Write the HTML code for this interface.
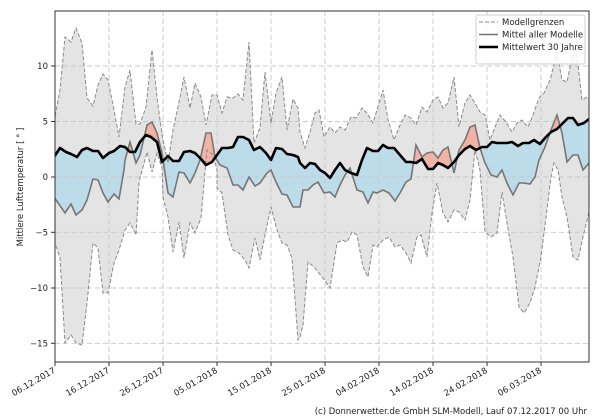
<!DOCTYPE html>
<html><head><meta charset="utf-8"><style>
html,body{margin:0;padding:0;background:#fff;}
svg{display:block;font-family:"DejaVu Sans","Liberation Sans",sans-serif;}
</style></head><body>
<svg width="600" height="420" viewBox="0 0 600 420" xmlns="http://www.w3.org/2000/svg" xmlns:xlink="http://www.w3.org/1999/xlink">
<defs>
<clipPath id="plot"><rect x="55" y="11" width="534" height="351"/></clipPath>
<clipPath id="below"><polygon points="54,157 60,148 66,152 71,154 77,157 82,150 87,148 93,151 98,151 103,158 109,153 114,151 120,146 125,147 130,152 135,152 140,142 146,135 151,137 157,142 162,162 168,156 173,161 179,161 184,152 190,151 195,153 201,159 206,165 212,162 217,155 222,148 228,148 233,147 238,137 243,137 249,140 254,150 260,147 266,153 271,160 276,148 282,149 287,154 293,155 298,157 300,163 305,168 310,163 315,164 320,170 325,173 330,178 335,170 340,163 345,170 351,173 357,175 362,160 367,148 373,151 378,151 383,145 388,148 394,148 400,155 406,162 411,162 416,163 422,159 428,169 433,169 438,163 443,165 448,168 454,162 459,155 465,149 470,146 476,150 482,147 487,147 492,142 497,143 502,143 507,143 512,142 518,146 523,143 529,143 534,140 540,144 545,138 551,132 557,129 562,124 568,118 573,118 578,125 584,123 589,119 600,119 600,420 40,420 40,157"/></clipPath>
<clipPath id="above"><polygon points="54,157 60,148 66,152 71,154 77,157 82,150 87,148 93,151 98,151 103,158 109,153 114,151 120,146 125,147 130,152 135,152 140,142 146,135 151,137 157,142 162,162 168,156 173,161 179,161 184,152 190,151 195,153 201,159 206,165 212,162 217,155 222,148 228,148 233,147 238,137 243,137 249,140 254,150 260,147 266,153 271,160 276,148 282,149 287,154 293,155 298,157 300,163 305,168 310,163 315,164 320,170 325,173 330,178 335,170 340,163 345,170 351,173 357,175 362,160 367,148 373,151 378,151 383,145 388,148 394,148 400,155 406,162 411,162 416,163 422,159 428,169 433,169 438,163 443,165 448,168 454,162 459,155 465,149 470,146 476,150 482,147 487,147 492,142 497,143 502,143 507,143 512,142 518,146 523,143 529,143 534,140 540,144 545,138 551,132 557,129 562,124 568,118 573,118 578,125 584,123 589,119 600,119 600,0 40,0 40,157"/></clipPath>
<polygon id="anom" points="54,197 65,213 71,204 76,215 82,210 87,200 93,179 98,180 103,193 108,202 114,194 119,199 124,170 125,160 130,142 136,163 140,155 147,125 152,122 157,133 162,153 168,193 173,197 179,172 184,173 190,183 195,173 200,160 206,133 211,133 215,157 220,165 227,168 233,185 238,185 243,190 249,177 255,186 260,183 267,173 271,170 276,182 282,194 287,195 293,207 298,207 300,207 303,190 308,190 313,185 318,182 324,193 330,192 335,197 340,185 345,175 350,168 357,190 363,192 368,203 373,192 377,193 383,190 389,193 395,201 400,193 406,182 411,179 416,145 422,157 427,153 433,152 438,158 443,150 448,147 454,173 459,150 465,140 470,127 475,125 480,148 485,163 491,175 497,177 502,170 507,183 513,195 519,183 524,183 530,184 535,177 539,160 545,147 551,130 557,115 562,133 567,162 573,155 578,155 583,170 589,163 589,119 584,123 578,125 573,118 568,118 562,124 557,129 551,132 545,138 540,144 534,140 529,143 523,143 518,146 512,142 507,143 502,143 497,143 492,142 487,147 482,147 476,150 470,146 465,149 459,155 454,162 448,168 443,165 438,163 433,169 428,169 422,159 416,163 411,162 406,162 400,155 394,148 388,148 383,145 378,151 373,151 367,148 362,160 357,175 351,173 345,170 340,163 335,170 330,178 325,173 320,170 315,164 310,163 305,168 300,163 298,157 293,155 287,154 282,149 276,148 271,160 266,153 260,147 254,150 249,140 243,137 238,137 233,147 228,148 222,148 217,155 212,162 206,165 201,159 195,153 190,151 184,152 179,161 173,161 168,156 162,162 157,142 151,137 146,135 140,142 135,152 130,152 125,147 120,146 114,151 109,153 103,158 98,151 93,151 87,148 82,150 77,157 71,154 66,152 60,148 54,157"/>
</defs>
<g clip-path="url(#plot)">
<polygon fill="#e4e4e4" points="54,122 60,90 65,37 71,42 76,28 82,43 87,98 93,106 98,85 103,74 108,80 114,110 119,137 125,87 130,70 136,124 140,124 146,107 152,50 157,97 162,135 168,163 173,130 179,102 184,77 190,108 195,83 201,97 206,125 212,95 217,95 222,113 227,97 233,98 238,94 243,100 249,42 254,143 260,128 265,72 271,123 276,93 282,77 287,130 293,99 298,108 300,132 305,148 310,132 315,113 319,110 324,137 330,127 335,133 340,127 345,130 351,117 356,118 362,108 367,113 373,123 383,90 388,120 394,140 400,125 405,115 411,118 416,125 422,107 427,112 433,100 438,97 443,108 448,103 454,77 459,127 465,103 470,95 475,103 480,112 485,115 490,140 495,127 500,115 506,122 512,132 517,123 522,120 528,127 533,115 539,98 544,93 550,80 557,53 562,80 567,82 572,57 576,47 582,100 587,97 590,97 590,212 589,212 583,237 578,260 573,257 567,217 562,197 558,170 554,163 551,177 546,217 541,257 535,287 530,303 524,313 519,307 513,257 507,223 502,192 497,233 491,237 485,232 480,170 475,150 470,200 465,220 459,212 454,210 448,222 443,213 437,183 432,213 427,257 421,235 417,237 411,263 406,253 400,245 395,247 389,237 383,240 377,247 373,245 368,277 363,267 357,235 352,232 347,242 342,240 337,243 330,288 322,277 315,268 308,262 303,325 300,337 298,340 292,258 287,245 282,243 277,230 271,207 266,230 260,260 255,238 249,268 245,260 239,253 233,250 228,235 222,193 217,188 217,170 213,155 207,150 204,183 201,218 195,233 190,223 184,258 179,222 173,252 168,217 163,197 162,168 157,153 152,172 147,152 139,182 136,235 130,223 125,230 119,250 114,263 108,293 103,293 98,248 93,243 87,303 82,345 76,343 71,335 65,343 60,258 54,240"/>
<g clip-path="url(#below)"><use href="#anom" xlink:href="#anom" fill="#bcdce9"/></g>
<g clip-path="url(#above)"><use href="#anom" xlink:href="#anom" fill="#f0b3a5"/></g>
<g stroke="#c8c8c8" stroke-width="0.9" stroke-dasharray="5,3" fill="none">
<line x1="109" y1="11" x2="109" y2="362"/><line x1="163" y1="11" x2="163" y2="362"/><line x1="217" y1="11" x2="217" y2="362"/><line x1="271" y1="11" x2="271" y2="362"/><line x1="325" y1="11" x2="325" y2="362"/><line x1="379" y1="11" x2="379" y2="362"/><line x1="433" y1="11" x2="433" y2="362"/><line x1="487" y1="11" x2="487" y2="362"/><line x1="541" y1="11" x2="541" y2="362"/>
<line x1="55" y1="66" x2="589" y2="66"/><line x1="55" y1="121.5" x2="589" y2="121.5"/><line x1="55" y1="177" x2="589" y2="177"/><line x1="55" y1="232.3" x2="589" y2="232.3"/><line x1="55" y1="288" x2="589" y2="288"/><line x1="55" y1="343.3" x2="589" y2="343.3"/>
</g>
<g fill="none" stroke="#8a8a8a" stroke-width="1" stroke-dasharray="4,2">
<polyline points="54,122 60,90 65,37 71,42 76,28 82,43 87,98 93,106 98,85 103,74 108,80 114,110 119,137 125,87 130,70 136,124 140,124 146,107 152,50 157,97 162,135 168,163 173,130 179,102 184,77 190,108 195,83 201,97 206,125 212,95 217,95 222,113 227,97 233,98 238,94 243,100 249,42 254,143 260,128 265,72 271,123 276,93 282,77 287,130 293,99 298,108 300,132 305,148 310,132 315,113 319,110 324,137 330,127 335,133 340,127 345,130 351,117 356,118 362,108 367,113 373,123 383,90 388,120 394,140 400,125 405,115 411,118 416,125 422,107 427,112 433,100 438,97 443,108 448,103 454,77 459,127 465,103 470,95 475,103 480,112 485,115 490,140 495,127 500,115 506,122 512,132 517,123 522,120 528,127 533,115 539,98 544,93 550,80 557,53 562,80 567,82 572,57 576,47 582,100 587,97 590,97"/>
<polyline points="54,240 60,258 65,343 71,335 76,343 82,345 87,303 93,243 98,248 103,293 108,293 114,263 119,250 125,230 130,223 136,235 139,182 147,152 152,172 157,153 162,168 163,197 168,217 173,252 179,222 184,258 190,223 195,233 201,218 204,183 207,150 213,155 217,170 217,188 222,193 228,235 233,250 239,253 245,260 249,268 255,238 260,260 266,230 271,207 277,230 282,243 287,245 292,258 298,340 300,337 303,325 308,262 315,268 322,277 330,288 337,243 342,240 347,242 352,232 357,235 363,267 368,277 373,245 377,247 383,240 389,237 395,247 400,245 406,253 411,263 417,237 421,235 427,257 432,213 437,183 443,213 448,222 454,210 459,212 465,220 470,200 475,150 480,170 485,232 491,237 497,233 502,192 507,223 513,257 519,307 524,313 530,303 535,287 541,257 546,217 551,177 554,163 558,170 562,197 567,217 573,257 578,260 583,237 589,212"/>
</g>
<polyline fill="none" stroke="#767676" stroke-width="1.6" points="54,197 65,213 71,204 76,215 82,210 87,200 93,179 98,180 103,193 108,202 114,194 119,199 124,170 125,160 130,142 136,163 140,155 147,125 152,122 157,133 162,153 168,193 173,197 179,172 184,173 190,183 195,173 200,160 206,133 211,133 215,157 220,165 227,168 233,185 238,185 243,190 249,177 255,186 260,183 267,173 271,170 276,182 282,194 287,195 293,207 298,207 300,207 303,190 308,190 313,185 318,182 324,193 330,192 335,197 340,185 345,175 350,168 357,190 363,192 368,203 373,192 377,193 383,190 389,193 395,201 400,193 406,182 411,179 416,145 422,157 427,153 433,152 438,158 443,150 448,147 454,173 459,150 465,140 470,127 475,125 480,148 485,163 491,175 497,177 502,170 507,183 513,195 519,183 524,183 530,184 535,177 539,160 545,147 551,130 557,115 562,133 567,162 573,155 578,155 583,170 589,163"/>
<polyline fill="none" stroke="#000" stroke-width="2.6" stroke-linejoin="round" points="54,157 60,148 66,152 71,154 77,157 82,150 87,148 93,151 98,151 103,158 109,153 114,151 120,146 125,147 130,152 135,152 140,142 146,135 151,137 157,142 162,162 168,156 173,161 179,161 184,152 190,151 195,153 201,159 206,165 212,162 217,155 222,148 228,148 233,147 238,137 243,137 249,140 254,150 260,147 266,153 271,160 276,148 282,149 287,154 293,155 298,157 300,163 305,168 310,163 315,164 320,170 325,173 330,178 335,170 340,163 345,170 351,173 357,175 362,160 367,148 373,151 378,151 383,145 388,148 394,148 400,155 406,162 411,162 416,163 422,159 428,169 433,169 438,163 443,165 448,168 454,162 459,155 465,149 470,146 476,150 482,147 487,147 492,142 497,143 502,143 507,143 512,142 518,146 523,143 529,143 534,140 540,144 545,138 551,132 557,129 562,124 568,118 573,118 578,125 584,123 589,119"/>
</g>
<rect x="55" y="11" width="534" height="351" fill="none" stroke="#333" stroke-width="1"/>
<g stroke="#333" stroke-width="1">
<line x1="51" y1="66" x2="55" y2="66"/><line x1="51" y1="121.5" x2="55" y2="121.5"/><line x1="51" y1="177" x2="55" y2="177"/><line x1="51" y1="232.3" x2="55" y2="232.3"/><line x1="51" y1="288" x2="55" y2="288"/><line x1="51" y1="343.3" x2="55" y2="343.3"/>
<line x1="55" y1="362" x2="55" y2="366"/><line x1="109" y1="362" x2="109" y2="366"/><line x1="163" y1="362" x2="163" y2="366"/><line x1="217" y1="362" x2="217" y2="366"/><line x1="271" y1="362" x2="271" y2="366"/><line x1="325" y1="362" x2="325" y2="366"/><line x1="379" y1="362" x2="379" y2="366"/><line x1="433" y1="362" x2="433" y2="366"/><line x1="487" y1="362" x2="487" y2="366"/><line x1="541" y1="362" x2="541" y2="366"/>
</g>
<g font-size="8.5" fill="#222" text-anchor="end">
<text x="48" y="69">10</text><text x="48" y="124.5">5</text><text x="48" y="180">0</text><text x="48" y="235.3">−5</text><text x="48" y="291">−10</text><text x="48" y="346.3">−15</text>
</g>
<text transform="translate(23,187) rotate(-90)" font-size="8.5" fill="#222" text-anchor="middle">Mittlere Lufttemperatur [ ° ]</text>
<g font-size="8.5" fill="#222" text-anchor="end">
<text transform="translate(56,372) rotate(-30)">06.12.2017</text>
<text transform="translate(110,372) rotate(-30)">16.12.2017</text>
<text transform="translate(164,372) rotate(-30)">26.12.2017</text>
<text transform="translate(218,372) rotate(-30)">05.01.2018</text>
<text transform="translate(272,372) rotate(-30)">15.01.2018</text>
<text transform="translate(326,372) rotate(-30)">25.01.2018</text>
<text transform="translate(380,372) rotate(-30)">04.02.2018</text>
<text transform="translate(434,372) rotate(-30)">14.02.2018</text>
<text transform="translate(488,372) rotate(-30)">24.02.2018</text>
<text transform="translate(542,372) rotate(-30)">06.03.2018</text>
</g>
<rect x="476" y="15" width="109" height="49" rx="2" fill="#fff" fill-opacity="0.85" stroke="#d0d0d0"/>
<line x1="479" y1="22" x2="498" y2="22" stroke="#888" stroke-dasharray="4,2"/>
<line x1="479" y1="34.5" x2="498" y2="34.5" stroke="#767676" stroke-width="1.6"/>
<line x1="479" y1="47" x2="498" y2="47" stroke="#000" stroke-width="2.6"/>
<g font-size="8.5" fill="#222">
<text x="502" y="25">Modellgrenzen</text>
<text x="502" y="37.5">Mittel aller Modelle</text>
<text x="502" y="50">Mittelwert 30 Jahre</text>
</g>
<text x="587" y="414" font-size="8.5" fill="#222" text-anchor="end">(c) Donnerwetter.de GmbH SLM-Modell, Lauf 07.12.2017 00 Uhr</text>
</svg>
</body></html>
